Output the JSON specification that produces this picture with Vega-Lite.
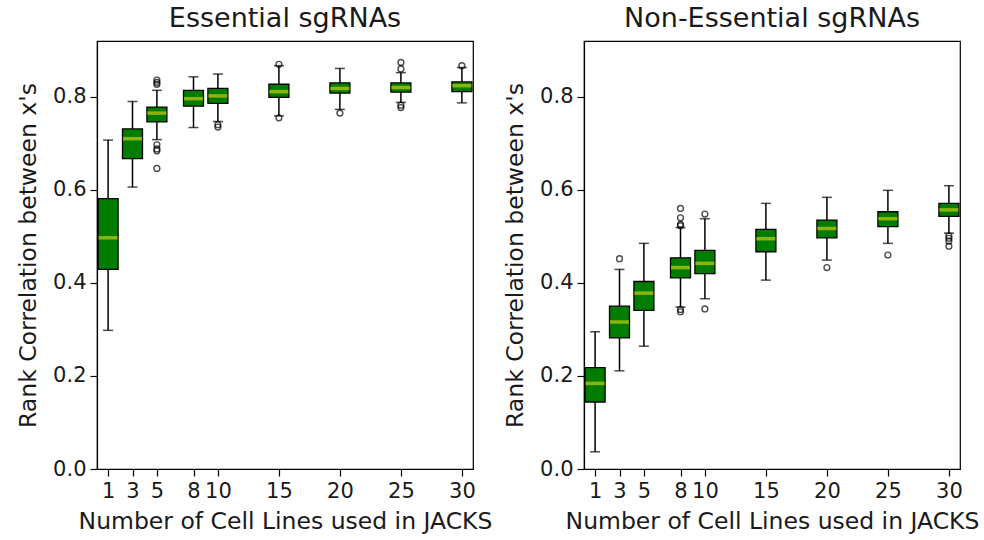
{
  "$schema": "https://vega.github.io/schema/vega-lite/v6.json",
  "padding": {"left": 16, "top": 4, "right": 5, "bottom": 5},
  "spacing": 10,
  "config": {
    "font": "DejaVu Sans",
    "view": {"stroke": "black", "strokeWidth": 1.2},
    "axis": {"grid": false, "domainColor": "black", "tickColor": "black", "labelColor": "#1a1a1a", "titleColor": "#1a1a1a", "labelFontSize": 21, "titleFontSize": 23.5, "titleFontWeight": "normal", "tickSize": 7, "labelPadding": 4, "domainWidth": 1.2, "tickWidth": 1.2, "labelFlush": false, "labelOverlap": false},
    "axisY": {"titlePadding": 12},
    "axisX": {"titlePadding": 8},
    "title": {"fontSize": 27, "fontWeight": "normal", "color": "#1a1a1a", "offset": 8}
  },
  "datasets": {
    "essBoxes": [
      {"n": 1, "lo": 0.298, "q1": 0.429, "med": 0.497, "q3": 0.581, "hi": 0.707},
      {"n": 3, "lo": 0.606, "q1": 0.667, "med": 0.710, "q3": 0.731, "hi": 0.790},
      {"n": 5, "lo": 0.708, "q1": 0.746, "med": 0.765, "q3": 0.778, "hi": 0.814},
      {"n": 8, "lo": 0.734, "q1": 0.780, "med": 0.796, "q3": 0.814, "hi": 0.843},
      {"n": 10, "lo": 0.747, "q1": 0.786, "med": 0.802, "q3": 0.818, "hi": 0.849},
      {"n": 15, "lo": 0.759, "q1": 0.799, "med": 0.811, "q3": 0.827, "hi": 0.867},
      {"n": 20, "lo": 0.773, "q1": 0.808, "med": 0.818, "q3": 0.830, "hi": 0.861},
      {"n": 25, "lo": 0.788, "q1": 0.810, "med": 0.820, "q3": 0.830, "hi": 0.852},
      {"n": 30, "lo": 0.787, "q1": 0.811, "med": 0.824, "q3": 0.832, "hi": 0.863}
    ],
    "essOut": [
      {"n": 5, "v": 0.836}, {"n": 5, "v": 0.831}, {"n": 5, "v": 0.827},
      {"n": 5, "v": 0.697}, {"n": 5, "v": 0.688}, {"n": 5, "v": 0.684}, {"n": 5, "v": 0.646},
      {"n": 10, "v": 0.740}, {"n": 10, "v": 0.735},
      {"n": 15, "v": 0.870}, {"n": 15, "v": 0.755},
      {"n": 20, "v": 0.765},
      {"n": 25, "v": 0.874}, {"n": 25, "v": 0.860}, {"n": 25, "v": 0.782}, {"n": 25, "v": 0.777},
      {"n": 30, "v": 0.867}
    ],
    "nonBoxes": [
      {"n": 1, "lo": 0.037, "q1": 0.144, "med": 0.184, "q3": 0.218, "hi": 0.295},
      {"n": 3, "lo": 0.211, "q1": 0.282, "med": 0.316, "q3": 0.350, "hi": 0.429},
      {"n": 5, "lo": 0.264, "q1": 0.341, "med": 0.378, "q3": 0.403, "hi": 0.485},
      {"n": 8, "lo": 0.348, "q1": 0.411, "med": 0.433, "q3": 0.454, "hi": 0.519},
      {"n": 10, "lo": 0.366, "q1": 0.420, "med": 0.442, "q3": 0.470, "hi": 0.538},
      {"n": 15, "lo": 0.406, "q1": 0.467, "med": 0.495, "q3": 0.515, "hi": 0.571},
      {"n": 20, "lo": 0.449, "q1": 0.497, "med": 0.517, "q3": 0.535, "hi": 0.584},
      {"n": 25, "lo": 0.485, "q1": 0.521, "med": 0.538, "q3": 0.553, "hi": 0.599},
      {"n": 30, "lo": 0.507, "q1": 0.543, "med": 0.557, "q3": 0.571, "hi": 0.609}
    ],
    "nonOut": [
      {"n": 3, "v": 0.452},
      {"n": 8, "v": 0.560}, {"n": 8, "v": 0.540}, {"n": 8, "v": 0.526}, {"n": 8, "v": 0.523},
      {"n": 8, "v": 0.343}, {"n": 8, "v": 0.338},
      {"n": 10, "v": 0.548}, {"n": 10, "v": 0.344},
      {"n": 20, "v": 0.433},
      {"n": 25, "v": 0.460},
      {"n": 30, "v": 0.501}, {"n": 30, "v": 0.496}, {"n": 30, "v": 0.490}, {"n": 30, "v": 0.479}
    ]
  },
  "hconcat": [
    {
      "width": 376, "height": 428,
      "title": "Essential sgRNAs",
      "layer": [
        {
          "data": {"name": "essBoxes"},
          "mark": {"type": "rule", "color": "black", "strokeWidth": 1.5},
          "encoding": {
            "x": {"field": "n", "type": "quantitative", "title": "Number of Cell Lines used in JACKS", "scale": {"domain": [0.5, 30.5], "nice": false, "zero": false}, "axis": {"values": [1, 3, 5, 8, 10, 15, 20, 25, 30]}},
            "y": {"field": "lo", "type": "quantitative", "title": "Rank Correlation between x's", "scale": {"domain": [0, 0.92], "nice": false}, "axis": {"values": [0, 0.2, 0.4, 0.6, 0.8], "format": ".1f"}},
            "y2": {"field": "hi"}
          }
        },
        {
          "data": {"name": "essBoxes"},
          "mark": {"type": "tick", "orient": "horizontal", "size": 10, "thickness": 1.5, "color": "black", "clip": true},
          "encoding": {
            "x": {"field": "n", "type": "quantitative", "title": "Number of Cell Lines used in JACKS"},
            "y": {"field": "lo", "type": "quantitative", "title": "Rank Correlation between x's"}
          }
        },
        {
          "data": {"name": "essBoxes"},
          "mark": {"type": "tick", "orient": "horizontal", "size": 10, "thickness": 1.5, "color": "black", "clip": true},
          "encoding": {
            "x": {"field": "n", "type": "quantitative", "title": "Number of Cell Lines used in JACKS"},
            "y": {"field": "hi", "type": "quantitative", "title": "Rank Correlation between x's"}
          }
        },
        {
          "data": {"name": "essBoxes"},
          "mark": {"type": "bar", "width": 20, "fill": "#007d00", "stroke": "black", "strokeWidth": 1.3, "clip": true},
          "encoding": {
            "x": {"field": "n", "type": "quantitative", "title": "Number of Cell Lines used in JACKS"},
            "y": {"field": "q1", "type": "quantitative", "title": "Rank Correlation between x's"},
            "y2": {"field": "q3"}
          }
        },
        {
          "data": {"name": "essBoxes"},
          "mark": {"type": "tick", "orient": "horizontal", "size": 19, "thickness": 3.5, "color": "#c8cc10", "clip": true},
          "encoding": {
            "x": {"field": "n", "type": "quantitative", "title": "Number of Cell Lines used in JACKS"},
            "y": {"field": "med", "type": "quantitative", "title": "Rank Correlation between x's"}
          }
        },
        {
          "data": {"name": "essOut"},
          "mark": {"type": "point", "shape": "circle", "filled": false, "stroke": "black", "strokeWidth": 1.4, "size": 34, "clip": true},
          "encoding": {
            "x": {"field": "n", "type": "quantitative", "title": "Number of Cell Lines used in JACKS"},
            "y": {"field": "v", "type": "quantitative", "title": "Rank Correlation between x's"}
          }
        }
      ]
    },
    {
      "width": 376, "height": 428,
      "title": "Non-Essential sgRNAs",
      "layer": [
        {
          "data": {"name": "nonBoxes"},
          "mark": {"type": "rule", "color": "black", "strokeWidth": 1.5},
          "encoding": {
            "x": {"field": "n", "type": "quantitative", "title": "Number of Cell Lines used in JACKS", "scale": {"domain": [0.5, 30.5], "nice": false, "zero": false}, "axis": {"values": [1, 3, 5, 8, 10, 15, 20, 25, 30]}},
            "y": {"field": "lo", "type": "quantitative", "title": "Rank Correlation between x's", "scale": {"domain": [0, 0.92], "nice": false}, "axis": {"values": [0, 0.2, 0.4, 0.6, 0.8], "format": ".1f"}},
            "y2": {"field": "hi"}
          }
        },
        {
          "data": {"name": "nonBoxes"},
          "mark": {"type": "tick", "orient": "horizontal", "size": 10, "thickness": 1.5, "color": "black", "clip": true},
          "encoding": {
            "x": {"field": "n", "type": "quantitative", "title": "Number of Cell Lines used in JACKS"},
            "y": {"field": "lo", "type": "quantitative", "title": "Rank Correlation between x's"}
          }
        },
        {
          "data": {"name": "nonBoxes"},
          "mark": {"type": "tick", "orient": "horizontal", "size": 10, "thickness": 1.5, "color": "black", "clip": true},
          "encoding": {
            "x": {"field": "n", "type": "quantitative", "title": "Number of Cell Lines used in JACKS"},
            "y": {"field": "hi", "type": "quantitative", "title": "Rank Correlation between x's"}
          }
        },
        {
          "data": {"name": "nonBoxes"},
          "mark": {"type": "bar", "width": 20, "fill": "#007d00", "stroke": "black", "strokeWidth": 1.3, "clip": true},
          "encoding": {
            "x": {"field": "n", "type": "quantitative", "title": "Number of Cell Lines used in JACKS"},
            "y": {"field": "q1", "type": "quantitative", "title": "Rank Correlation between x's"},
            "y2": {"field": "q3"}
          }
        },
        {
          "data": {"name": "nonBoxes"},
          "mark": {"type": "tick", "orient": "horizontal", "size": 19, "thickness": 3.5, "color": "#c8cc10", "clip": true},
          "encoding": {
            "x": {"field": "n", "type": "quantitative", "title": "Number of Cell Lines used in JACKS"},
            "y": {"field": "med", "type": "quantitative", "title": "Rank Correlation between x's"}
          }
        },
        {
          "data": {"name": "nonOut"},
          "mark": {"type": "point", "shape": "circle", "filled": false, "stroke": "black", "strokeWidth": 1.4, "size": 34, "clip": true},
          "encoding": {
            "x": {"field": "n", "type": "quantitative", "title": "Number of Cell Lines used in JACKS"},
            "y": {"field": "v", "type": "quantitative", "title": "Rank Correlation between x's"}
          }
        }
      ]
    }
  ]
}
